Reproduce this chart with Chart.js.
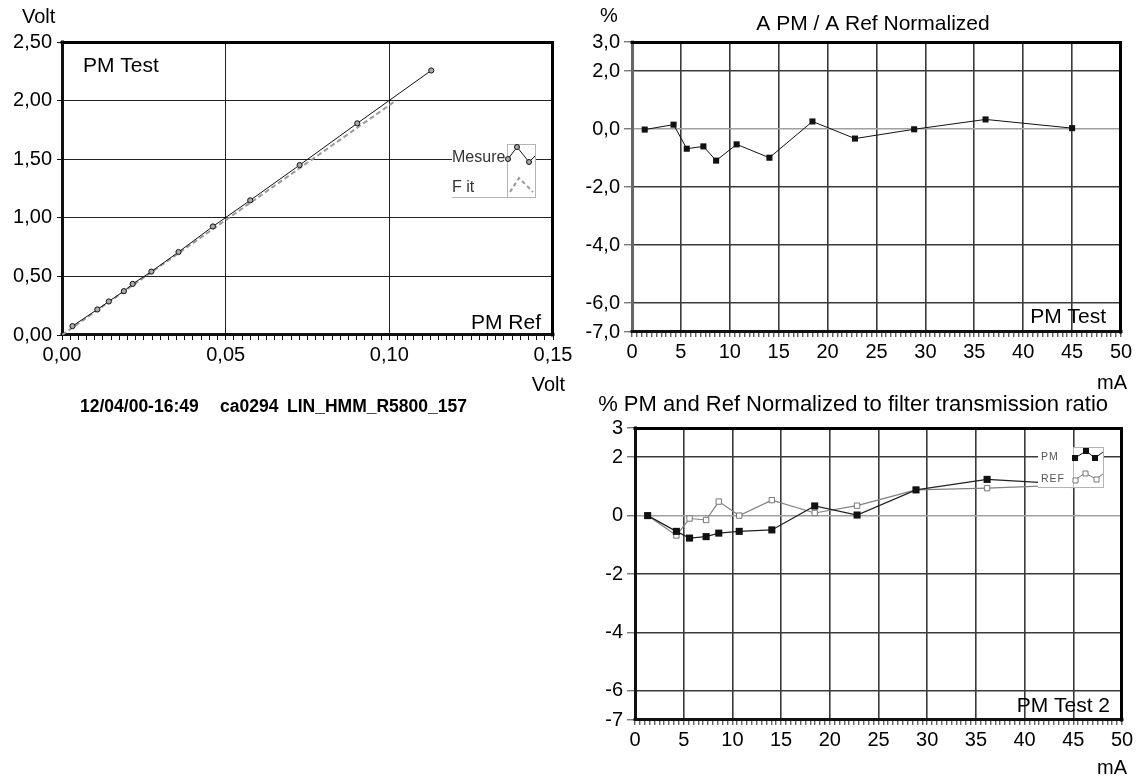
<!DOCTYPE html>
<html><head><meta charset="utf-8">
<script src="https://cdn.jsdelivr.net/npm/chart.js@4.4.1/dist/chart.umd.min.js"></script>
<style>
html,body{margin:0;padding:0;background:#fff;width:1141px;height:778px;overflow:hidden}
canvas{position:absolute}
</style></head><body>
<canvas id="c1" width="580" height="420" style="left:0px;top:0px"></canvas>
<canvas id="c2" width="571" height="400" style="left:570px;top:0px"></canvas>
<canvas id="c3" width="571" height="398" style="left:570px;top:380px"></canvas>
<script>
// ---------- data ----------
const refVolt  = [0.0032,0.0108,0.0143,0.0189,0.0216,0.0273,0.0356,0.0461,0.0575,0.0726,0.0902,0.1128];
const testVolt = [0.076,0.218,0.286,0.374,0.436,0.541,0.708,0.926,1.149,1.450,1.806,2.257];
const fitRefVolt  = [0, 0.102];
const fitTestVolt = [0, 2.0];

const currentMA = [1.3,4.25,5.6,7.3,8.6,10.7,14.05,18.45,22.8,28.85,36.15,45.0];
const ratioNorm = [-0.02,0.15,-0.68,-0.60,-1.09,-0.53,-0.99,0.26,-0.33,-0.01,0.33,0.03];
const pmNorm    = [0,-0.54,-0.77,-0.72,-0.60,-0.54,-0.49,0.33,0.02,0.88,1.24,1.07];
const refNorm   = [0,-0.68,-0.10,-0.15,0.48,0.00,0.53,0.09,0.34,0.88,0.94,1.05];

// ---------- tick labels ----------
const p1YTicks = [0,0.5,1.0,1.5,2.0,2.5];
const p2YTicks = [3,2,0,-2,-4,-6,-7];
const p3YTicks = [3,2,0,-2,-4,-6,-7];

const FONT = "'Liberation Sans', Arial, Helvetica, sans-serif";
Chart.defaults.font.family = FONT;
Chart.defaults.font.size = 20;
Chart.defaults.color = '#000';
Chart.defaults.animation = false;
Chart.defaults.responsive = false;
Chart.defaults.devicePixelRatio = 1;
Chart.defaults.plugins.legend.display = false;
Chart.defaults.plugins.tooltip.enabled = false;

function pts(xs, ys){ return xs.map((x,i)=>({x:x, y:ys[i]})); }
function fmtC(v,d){ return v.toFixed(d).replace('.', ','); }
function minorTicks(min, step, n){ const t=[]; for(let i=0;i<=n;i++) t.push({value:+(min+i*step).toFixed(6)}); return t; }

function decor(ox, oy, cfg){
  return {
    id:'decor',
    beforeDatasetsDraw(chart){
      const ctx = chart.ctx, a = chart.chartArea;
      ctx.save();
      ctx.lineWidth = 3; ctx.lineCap = 'square';
      ctx.strokeStyle = cfg.leftColor || '#111';
      ctx.beginPath(); ctx.moveTo(a.left+0.5, a.top); ctx.lineTo(a.left+0.5, a.bottom-0.5); ctx.stroke();
      ctx.strokeStyle = '#111';
      ctx.beginPath(); ctx.moveTo(a.left, a.bottom-0.5); ctx.lineTo(a.right, a.bottom-0.5); ctx.stroke();
      ctx.strokeStyle = '#000';
      ctx.beginPath(); ctx.moveTo(a.left, a.top+0.5); ctx.lineTo(a.right-0.5, a.top+0.5); ctx.lineTo(a.right-0.5, a.bottom); ctx.stroke();
      ctx.restore();
    },
    afterDatasetsDraw(chart){
      if(cfg.legend){ const ctx=chart.ctx; ctx.save(); ctx.translate(-ox,-oy); cfg.legend(ctx); ctx.restore(); }
    },
    afterDraw(chart){
      const ctx = chart.ctx;
      ctx.save(); ctx.translate(-ox,-oy);
      ctx.fillStyle = '#000'; ctx.textBaseline = 'alphabetic';
      (cfg.texts||[]).forEach(t=>{
        ctx.font = (t.bold?'bold ':'') + t.size + 'px ' + FONT;
        ctx.textAlign = t.align || 'left';
        ctx.fillText(t.t, t.x, t.y);
      });
      ctx.restore();
    }
  };
}

function sq(ctx, x, y, s, fill, stroke){
  ctx.beginPath(); ctx.rect(x-s/2, y-s/2, s, s);
  if(fill){ ctx.fillStyle=fill; ctx.fill(); }
  if(stroke){ ctx.strokeStyle=stroke; ctx.lineWidth=1; ctx.stroke(); }
}

function legend1(ctx){
  ctx.fillStyle='#fff'; ctx.fillRect(452,144,84,54);
  ctx.strokeStyle='#b4b4b4'; ctx.lineWidth=1;
  ctx.strokeRect(507.5,144.5,28,53);
  ctx.beginPath(); ctx.moveTo(452,197.5); ctx.lineTo(536,197.5); ctx.stroke();
  ctx.fillStyle='#333'; ctx.font='16px '+FONT; ctx.textAlign='left'; ctx.textBaseline='alphabetic';
  ctx.fillText('Mesure',452,162);
  ctx.fillText('F it',452,192);
  ctx.strokeStyle='#111'; ctx.lineWidth=1;
  ctx.beginPath(); ctx.moveTo(508,159); ctx.lineTo(517,147); ctx.lineTo(529,162); ctx.lineTo(535,156); ctx.stroke();
  [[508,159],[517,147],[529,162]].forEach(p=>{ ctx.beginPath(); ctx.arc(p[0],p[1],2.5,0,Math.PI*2); ctx.fillStyle='#aaa'; ctx.fill(); ctx.strokeStyle='#111'; ctx.stroke(); });
  ctx.strokeStyle='#999'; ctx.lineWidth=2; ctx.setLineDash([4,3]);
  ctx.beginPath(); ctx.moveTo(510,192); ctx.lineTo(519,178); ctx.lineTo(533,192); ctx.stroke();
  ctx.setLineDash([]);
}

function legend3(ctx){
  ctx.fillStyle='#fff'; ctx.fillRect(1038,447,66,41);
  ctx.strokeStyle='#b4b4b4'; ctx.lineWidth=1;
  ctx.strokeRect(1073.5,447.5,30,40);
  ctx.beginPath(); ctx.moveTo(1038,487.5); ctx.lineTo(1074,487.5); ctx.stroke();
  ctx.fillStyle='#555'; ctx.font='10.5px '+FONT; ctx.textAlign='left'; ctx.textBaseline='alphabetic';
  if('letterSpacing' in ctx) ctx.letterSpacing='1px';
  ctx.fillText('PM',1041,460);
  ctx.fillText('REF',1041,482);
  if('letterSpacing' in ctx) ctx.letterSpacing='0px';
  ctx.strokeStyle='#111'; ctx.lineWidth=1;
  ctx.beginPath(); ctx.moveTo(1075,458); ctx.lineTo(1086,451); ctx.lineTo(1095,458); ctx.lineTo(1103,452); ctx.stroke();
  [[1075,458],[1086,451],[1095,458]].forEach(p=>sq(ctx,p[0],p[1],6,'#111',null));
  ctx.strokeStyle='#777';
  ctx.beginPath(); ctx.moveTo(1075,480); ctx.lineTo(1085,473); ctx.lineTo(1096,479); ctx.lineTo(1103,474); ctx.stroke();
  [[1075,480],[1085,473],[1096,479]].forEach(p=>sq(ctx,p[0]+0.5,p[1]+0.5,5,'#fff','#777'));
}

// ---------- Panel 1 ----------
new Chart(document.getElementById('c1'), {
  type:'line',
  data:{ datasets:[
    { data: pts(refVolt, testVolt), borderColor:'#111', borderWidth:1, pointStyle:'circle', pointRadius:2.6,
      pointBackgroundColor:'#aaa', pointBorderColor:'#111', pointBorderWidth:1, tension:0 },
    { data: pts(fitRefVolt, fitTestVolt), borderColor:'#999', borderWidth:2, borderDash:[5,3], pointRadius:0, tension:0 }
  ]},
  options:{
    layout:{ padding:{ left:0, top:42, right:27, bottom:0 } },
    scales:{
      x:{ type:'linear', min:0, max:0.15,
        afterBuildTicks: s=>{ s.ticks = minorTicks(0, 0.0025, 60); },
        afterFit: s=>{ s.height = 85; },
        ticks:{ autoSkip:false, maxRotation:0, padding:3, callback:(v,i)=> (i%20===0 ? fmtC(v,2) : '') },
        grid:{ color:c=> (c.index%20===0 ? '#222' : 'rgba(0,0,0,0)'), lineWidth:1, tickColor:'#111', tickWidth:1, tickLength:5 },
        border:{ display:false }
      },
      y:{ type:'linear', min:0, max:2.5,
        afterBuildTicks: s=>{ s.ticks = p1YTicks.map(v=>({value:v})); },
        afterFit: s=>{ s.width = 62; },
        ticks:{ padding:5, callback:v=>fmtC(v,2) },
        grid:{ color:'#222', lineWidth:1, tickColor:'#111', tickWidth:1, tickLength:5 },
        border:{ display:false }
      }
    }
  },
  plugins:[ decor(0,0,{ legend:legend1, texts:[
    {t:'Volt', x:22, y:23, size:20},
    {t:'PM Test', x:83, y:72, size:21},
    {t:'PM Ref', x:541, y:329, size:21, align:'right'},
    {t:'Volt', x:565, y:391, size:20, align:'right'},
    {t:'12/04/00-16:49', x:80, y:412, size:17.5, bold:true},
    {t:'ca0294', x:220, y:412, size:17.5, bold:true},
    {t:'LIN_HMM_R5800_157', x:287, y:412, size:17.5, bold:true}
  ]}) ]
});

// ---------- Panel 2 ----------
new Chart(document.getElementById('c2'), {
  type:'line',
  data:{ datasets:[
    { data: pts(currentMA, ratioNorm), borderColor:'#111', borderWidth:1, pointStyle:'rect', pointRadius:4.3,
      pointBackgroundColor:'#111', pointBorderWidth:0, tension:0 }
  ]},
  options:{
    layout:{ padding:{ left:0, top:42, right:20, bottom:0 } },
    scales:{
      x:{ type:'linear', min:0, max:50,
        afterBuildTicks: s=>{ s.ticks = minorTicks(0, 0.5, 100); },
        afterFit: s=>{ s.height = 68; },
        ticks:{ autoSkip:false, maxRotation:0, padding:3, callback:(v,i)=> (i%10===0 ? String(Math.round(v)) : '') },
        grid:{ color:c=> (c.index%10===0 ? '#3a3a3a' : 'rgba(0,0,0,0)'), lineWidth:1.6, tickColor:'#222', tickWidth:1, tickLength:5 },
        border:{ display:false }
      },
      y:{ type:'linear', min:-7, max:3,
        afterBuildTicks: s=>{ s.ticks = p2YTicks.map(v=>({value:v})); },
        afterFit: s=>{ s.width = 62; },
        ticks:{ padding:4, callback:v=>fmtC(v,1) },
        grid:{ color:c=> (c.tick && c.tick.value===0 ? '#a0a0a0' : '#3a3a3a'), lineWidth:1.6, tickColor:'#444', tickWidth:1, tickLength:8 },
        border:{ display:false }
      }
    }
  },
  plugins:[ decor(570,0,{ leftColor:'#666', texts:[
    {t:'%', x:600, y:22, size:20},
    {t:'A PM / A Ref Normalized', x:873, y:30, size:21, align:'center'},
    {t:'PM Test', x:1106, y:323, size:21, align:'right'},
    {t:'mA', x:1127, y:389, size:20, align:'right'}
  ]}) ]
});

// ---------- Panel 3 ----------
new Chart(document.getElementById('c3'), {
  type:'line',
  data:{ datasets:[
    { data: pts(currentMA, pmNorm), borderColor:'#222', borderWidth:1.2, pointStyle:'rect', pointRadius:5,
      pointBackgroundColor:'#111', pointBorderWidth:0, tension:0 },
    { data: pts(currentMA, refNorm), borderColor:'#808080', borderWidth:1.2, pointStyle:'rect', pointRadius:3.8,
      pointBackgroundColor:'#fff', pointBorderColor:'#777', pointBorderWidth:1, tension:0 }
  ]},
  options:{
    layout:{ padding:{ left:0, top:48, right:19, bottom:0 } },
    scales:{
      x:{ type:'linear', min:0, max:50,
        afterBuildTicks: s=>{ s.ticks = minorTicks(0, 0.5, 100); },
        afterFit: s=>{ s.height = 58; },
        ticks:{ autoSkip:false, maxRotation:0, padding:3, callback:(v,i)=> (i%10===0 ? String(Math.round(v)) : '') },
        grid:{ color:c=> (c.index%10===0 ? '#3a3a3a' : 'rgba(0,0,0,0)'), lineWidth:1.6, tickColor:'#222', tickWidth:1, tickLength:5 },
        border:{ display:false }
      },
      y:{ type:'linear', min:-7, max:3,
        afterBuildTicks: s=>{ s.ticks = p3YTicks.map(v=>({value:v})); },
        afterFit: s=>{ s.width = 65; },
        ticks:{ padding:4, callback:v=>String(v) },
        grid:{ color:c=> (c.tick && c.tick.value===0 ? '#a0a0a0' : '#3a3a3a'), lineWidth:1.6, tickColor:'#444', tickWidth:1, tickLength:8 },
        border:{ display:false }
      }
    }
  },
  plugins:[ decor(570,380,{ legend:legend3, texts:[
    {t:'% PM and Ref Normalized to filter transmission ratio', x:1108, y:411, size:22, align:'right'},
    {t:'PM Test 2', x:1110, y:712, size:21, align:'right'},
    {t:'mA', x:1127, y:774, size:20, align:'right'}
  ]}) ]
});
</script>
</body></html>
